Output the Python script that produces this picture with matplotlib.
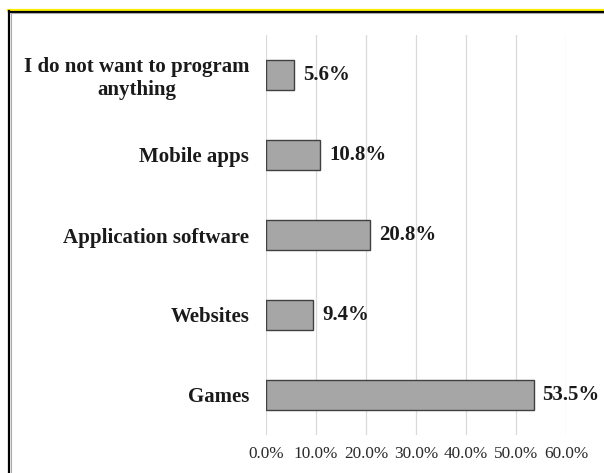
import matplotlib
matplotlib.use("Agg")
import matplotlib.pyplot as plt
from matplotlib.lines import Line2D
from matplotlib.ticker import FuncFormatter, MultipleLocator

categories = ["Games", "Websites", "Application software", "Mobile apps",
              "I do not want to program\nanything"]
values = [53.5, 9.4, 20.8, 10.8, 5.6]
value_labels = ["53.5%", "9.4%", "20.8%", "10.8%", "5.6%"]

W, H = 604, 473
fig = plt.figure(figsize=(W / 100, H / 100), dpi=100)
fig.patch.set_facecolor("white")

ax = fig.add_axes([266 / W, 1 - 435 / H, 300 / W, 400 / H])
y = list(range(len(categories)))
ax.barh(y, values, height=0.37, color="#a6a6a6", edgecolor="#404040",
        linewidth=1.0, zorder=3)
for yi, v, lab in zip(y, values, value_labels):
    ax.text(v + 1.8, yi, lab, va="center", ha="left", fontsize=15,
            fontweight="bold", family="Liberation Serif", color="#1a1a1a")

ax.set_xlim(0, 60)
ax.set_ylim(-0.5, 4.5)
ax.xaxis.set_major_locator(MultipleLocator(10))
ax.xaxis.set_major_formatter(FuncFormatter(lambda v, p: f"{v:.1f}%"))
ax.set_yticks(y)
ax.set_yticklabels(categories, fontsize=15, fontweight="bold",
                   family="Liberation Serif", color="#1a1a1a",
                   multialignment="center", linespacing=1.2)
for t in ax.get_xticklabels():
    t.set_fontfamily("Liberation Serif")
    t.set_fontsize(12.4)
    t.set_color("#2a2a2a")
ax.tick_params(axis="x", length=0, pad=8)
ax.tick_params(axis="y", length=0, pad=12)
ax.grid(axis="x", color="#d9d9d9", linewidth=0.9, zorder=0)
for s in ax.spines.values():
    s.set_visible(False)

# frame around the chart (cropped)
fig.add_artist(Line2D([8 / W, 1], [1 - 10 / H, 1 - 10 / H], color="#ffee00",
                      linewidth=1.6, transform=fig.transFigure))
fig.add_artist(Line2D([8.5 / W, 1], [1 - 12 / H, 1 - 12 / H], color="black",
                      linewidth=1.6, transform=fig.transFigure))
fig.add_artist(Line2D([9 / W, 9 / W], [0, 1 - 11.5 / H], color="black",
                      linewidth=1.6, transform=fig.transFigure))
fig.add_artist(Line2D([10.5 / W, 1], [1 - 13.5 / H, 1 - 13.5 / H],
                      color="#aaaaaa", linewidth=0.8, transform=fig.transFigure))
fig.add_artist(Line2D([10.5 / W, 10.5 / W], [0, 1 - 13.5 / H], color="#aaaaaa",
                      linewidth=0.8, transform=fig.transFigure))

fig.savefig("out.png", dpi=100)
